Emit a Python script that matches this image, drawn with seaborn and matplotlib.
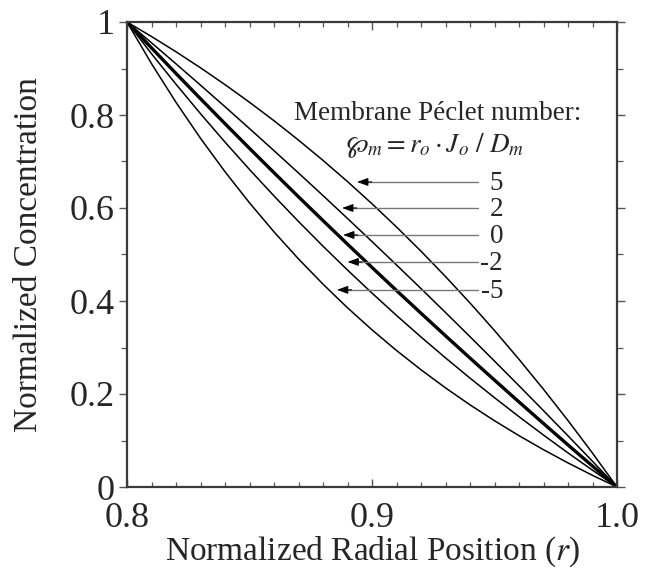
import matplotlib
matplotlib.use("Agg")
import matplotlib.pyplot as plt
import seaborn as sns
import pandas as pd
from matplotlib.ticker import MultipleLocator, FixedLocator

# ---- data ----
radial_position = [0.80, 0.81, 0.82, 0.83, 0.84, 0.85, 0.86, 0.87, 0.88, 0.89, 0.90,
                   0.91, 0.92, 0.93, 0.94, 0.95, 0.96, 0.97, 0.98, 0.99, 1.00]
conc_pe_p5 = [1.000, 0.9688, 0.9360, 0.9015, 0.8653, 0.8274, 0.7877, 0.7460, 0.7024, 0.6568, 0.6091,
              0.5592, 0.5071, 0.4526, 0.3958, 0.3365, 0.2746, 0.2101, 0.1429, 0.0729, 0.000]
conc_pe_p2 = [1.000, 0.9553, 0.9100, 0.8642, 0.8178, 0.7708, 0.7233, 0.6753, 0.6267, 0.5775, 0.5278,
              0.4775, 0.4267, 0.3753, 0.3233, 0.2708, 0.2178, 0.1642, 0.1100, 0.0553, 0.000]
conc_pe_0 = [1.000, 0.9443, 0.8893, 0.8350, 0.7813, 0.7283, 0.6759, 0.6241, 0.5729, 0.5222, 0.4722,
             0.4226, 0.3737, 0.3252, 0.2773, 0.2299, 0.1829, 0.1365, 0.0905, 0.0450, 0.000]
conc_pe_m2 = [1.000, 0.9318, 0.8662, 0.8028, 0.7417, 0.6828, 0.6259, 0.5710, 0.5179, 0.4666, 0.4170,
              0.3690, 0.3226, 0.2777, 0.2342, 0.1921, 0.1512, 0.1117, 0.0733, 0.0361, 0.000]
conc_pe_m5 = [1.000, 0.9104, 0.8272, 0.7499, 0.6780, 0.6111, 0.5487, 0.4905, 0.4362, 0.3854, 0.3380,
              0.2936, 0.2521, 0.2132, 0.1767, 0.1425, 0.1104, 0.0802, 0.0518, 0.0251, 0.000]
peclet_labels = ["5", "2", "0", "-2", "-5"]
arrow_tip_r = [0.8939, 0.8878, 0.8882, 0.8900, 0.8857]
arrow_tip_c = [0.656, 0.600, 0.542, 0.484, 0.424]
x_ticks = [0.8, 0.9, 1.0]
x_tick_labels = ["0.8", "0.9", "1.0"]
y_ticks = [0, 0.2, 0.4, 0.6, 0.8, 1.0]
y_tick_labels = ["0", "0.2", "0.4", "0.6", "0.8", "1"]

series = {"5": conc_pe_p5, "2": conc_pe_p2, "0": conc_pe_0, "-2": conc_pe_m2, "-5": conc_pe_m5}
frames = []
for pe, vals in series.items():
    frames.append(pd.DataFrame({"r": radial_position, "C": vals, "Pe": pe}))
df = pd.concat(frames, ignore_index=True)

sns.set_theme(style="ticks")
plt.rcParams["font.family"] = ["Liberation Serif", "DejaVu Serif"]
plt.rcParams["mathtext.fontset"] = "stix"

fig = plt.figure(figsize=(6.45, 5.77), dpi=100)
ax = fig.add_axes([127 / 645, 90 / 577, 490 / 645, 465 / 577])

for pe in peclet_labels:
    sub = df[df["Pe"] == pe]
    sns.lineplot(data=sub, x="r", y="C", ax=ax, color="black",
                 linewidth=2.4 if pe == "0" else 1.1, sort=False, estimator=None,
                 legend=False)

ax.set_xlim(0.8, 1.0)
ax.set_ylim(0, 1)
ax.xaxis.set_major_locator(FixedLocator(x_ticks))
ax.set_xticklabels(x_tick_labels)
ax.xaxis.set_minor_locator(MultipleLocator(0.01))
ax.yaxis.set_major_locator(FixedLocator(y_ticks))
ax.set_yticklabels(y_tick_labels)
ax.yaxis.set_minor_locator(MultipleLocator(0.1))

tick_col = "#555555"
ax.tick_params(axis="y", which="both", direction="out", left=True, right=True,
               color=tick_col, labelsize=26, pad=3)
ax.tick_params(axis="y", which="major", length=6, width=1.0)
ax.tick_params(axis="y", which="minor", length=4, width=0.9)
ax.tick_params(axis="x", which="both", direction="in", top=True, bottom=True,
               color=tick_col, labelsize=26, pad=10.5)
ax.tick_params(axis="x", which="major", length=6, width=1.0)
ax.tick_params(axis="x", which="minor", length=3.5, width=0.9)

for s in ax.spines.values():
    s.set_color("#3a3a3a")
    s.set_linewidth(1.6)

ax.set_xlabel("Normalized Radial Position ($r$)", fontsize=24, labelpad=0)
ax.set_ylabel("Normalized Concentration", fontsize=24, labelpad=18)

ax.text(0.9267, 0.789, "Membrane Péclet number:", fontsize=19.5,
        ha="center", va="baseline")
ax.text(0.9257, 0.720, r"$\wp_m = r_o \cdot J_o\ /\ D_m$", fontsize=19.5,
        ha="center", va="baseline")

for lab, tx, ty in zip(peclet_labels, arrow_tip_r, arrow_tip_c):
    ax.plot([tx + 0.002, 0.9433], [ty, ty], color="#777777", linewidth=1.0)
    ax.annotate("", xy=(tx, ty), xytext=(tx + 0.006, ty),
                arrowprops=dict(arrowstyle="-|>,head_length=0.55,head_width=0.2",
                                color="black", linewidth=0.8, shrinkA=0, shrinkB=0))
    ax.text(0.9535, ty - 0.004, lab, fontsize=19.5, ha="right", va="center")

fig.savefig("out.png", dpi=100)
